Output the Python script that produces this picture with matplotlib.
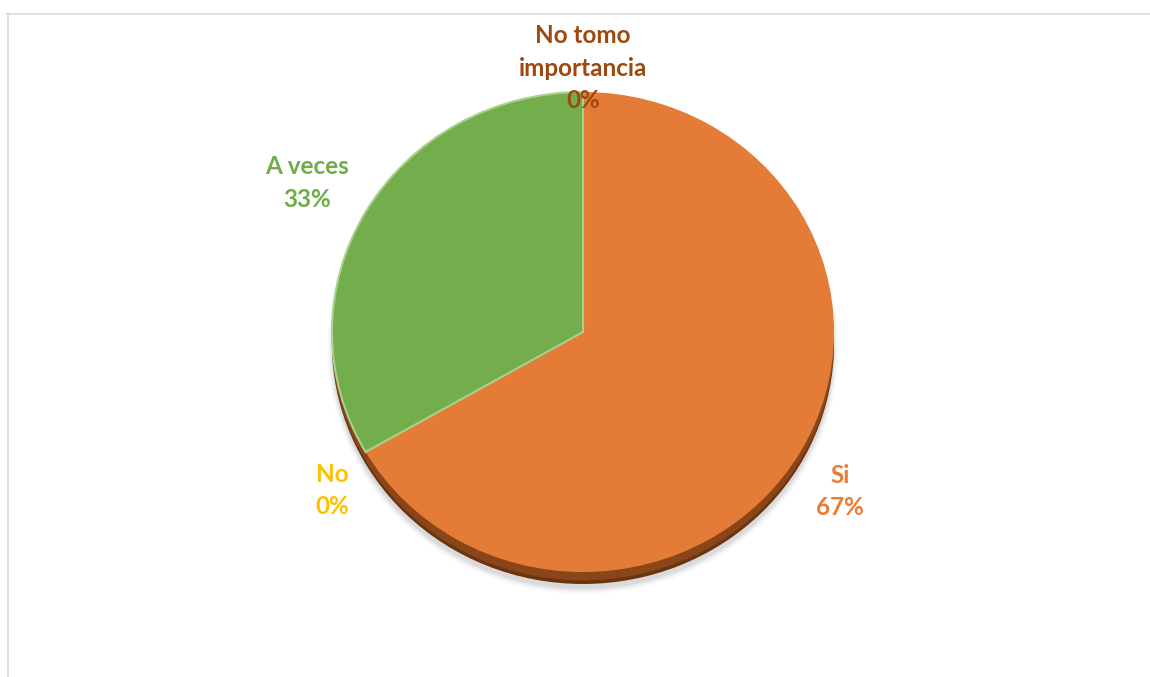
import numpy as np
import matplotlib.pyplot as plt
from matplotlib.patches import Ellipse
from matplotlib.lines import Line2D

# Data (clockwise from 12 o'clock)
categories = ['Si', 'No', 'A veces', 'No tomo\nimportancia']
counts = [2, 0, 1, 0]
percent_labels = ['67%', '0%', '33%', '0%']
colors = ['#E47C37', '#FFC000', '#74AD4C', '#9E480E']
label_colors = ['#ED7D31', '#FFC000', '#70AD47', '#9E480E']

W, H = 1150, 677
fig = plt.figure(figsize=(W / 100, H / 100), dpi=100)

# thin frame of the chart area (top and left visible)
fig.add_artist(Line2D([7 / W, 1], [1 - 13.5 / H, 1 - 13.5 / H], color='#D9D9D9', lw=1.2))
fig.add_artist(Line2D([7.5 / W, 7.5 / W], [0, 1 - 13.5 / H], color='#D9D9D9', lw=1.2))

# pie axes (slightly flattened, like the 3D look of the original)
left, right, top, bottom = 332, 834, 92, 572
ax = fig.add_axes([left / W, 1 - bottom / H, (right - left) / W, (bottom - top) / H])

# soft shadow and dark rim under the pie
for k, a in zip(np.linspace(0, 1, 8), np.linspace(0.06, 0.01, 8)):
    ax.add_patch(Ellipse((0, -0.07), 2 + 0.04 * k, 2 + 0.05 * k, color='#808080',
                         alpha=a, lw=0, clip_on=False, zorder=0))
ax.add_patch(Ellipse((0, -0.05), 2, 2, color='#6B3410', lw=0, clip_on=False, zorder=1))
ax.add_patch(Ellipse((0, -0.035), 2, 2, color='#8A4618', lw=0, clip_on=False, zorder=1))

wedges, _ = ax.pie(counts, colors=colors, startangle=90, counterclock=False,
                   radius=1, frame=True, wedgeprops=dict(linewidth=0))
for w in wedges:
    w.set_zorder(2)
    w.set_clip_on(False)
wedges[2].set_edgecolor('#A9D18E')
wedges[2].set_linewidth(1.5)
ax.set_xlim(-1, 1)
ax.set_ylim(-1, 1)
ax.set_aspect('auto')
ax.axis('off')

# data labels
label_pos = [(1.025, -0.665), (-1.0, -0.66), (-1.1, 0.62), (0.0, 1.10)]
for cat, pct, col, (x, y) in zip(categories, percent_labels, label_colors, label_pos):
    ax.text(x, y, f'{cat}\n{pct}', ha='center', va='center', color=col,
            fontsize=17.5, fontweight='bold', family='Lato', linespacing=1.5,
            zorder=5, clip_on=False)

fig.savefig('out.png', dpi=100)
